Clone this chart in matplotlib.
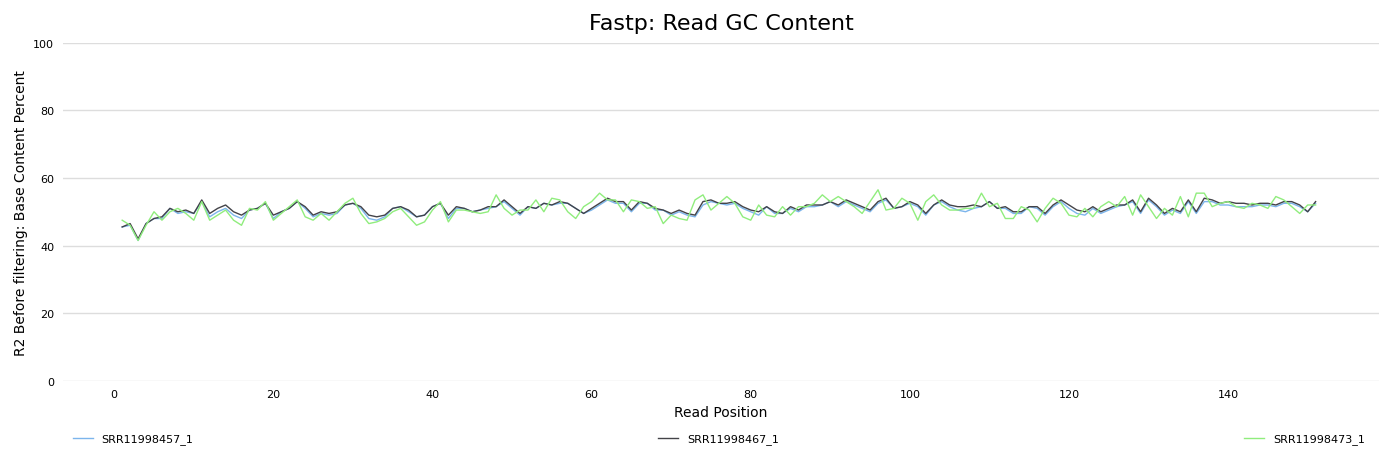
import matplotlib.pyplot as plt

positions = list(range(1, 152))

srr457 = [45.5, 46, 41.5, 46.5, 48, 48, 51, 49.5, 50, 49.5, 53, 48.5, 50, 51, 49, 48, 50.5, 51, 52.5, 48, 50, 51, 53, 51, 48.5, 49.5, 49, 49.5, 52, 52.5, 51, 48, 47.5, 48.5, 51, 51.5, 50, 48.5, 49, 51.5, 52.5, 48, 51, 51, 50, 50.5, 51, 51.5, 53, 51, 49, 51.5, 51, 52.5, 52, 52.5, 52.5, 51, 49.5, 50.5, 52, 53.5, 52.5, 52.5, 50, 52.5, 52.5, 50.5, 50.5, 49, 50, 49, 48.5, 52, 53, 52.5, 52, 52.5, 51, 50, 49, 51.5, 49.5, 49.5, 51, 50, 51.5, 51.5, 52, 53, 51.5, 53, 52, 51, 50, 52.5, 53.5, 51, 51.5, 52.5, 51.5, 49, 52, 53, 51.5, 50.5, 50, 51, 51.5, 53, 51, 51, 49.5, 49.5, 51.5, 51, 49, 51.5, 53, 51, 49.5, 49, 51, 49.5, 50.5, 51.5, 52, 53, 49.5, 53.5, 51.5, 49, 50.5, 49.5, 53, 49.5, 53, 53, 52, 52, 51.5, 51.5, 51.5, 52, 52, 51.5, 52.5, 52.5, 51.5, 50, 52.5]
srr467 = [45.5, 46.5, 42, 46.5, 48, 48.5, 51, 50, 50.5, 49.5, 53.5, 49.5, 51, 52, 50, 49, 50.5, 51, 52.5, 49, 50, 51, 53, 51.5, 49, 50, 49.5, 50, 52, 52.5, 51.5, 49, 48.5, 49, 51, 51.5, 50.5, 48.5, 49, 51.5, 52.5, 49, 51.5, 51, 50, 50.5, 51.5, 51.5, 53.5, 51.5, 49.5, 51.5, 51, 52.5, 52, 53, 52.5, 51, 49.5, 51, 52.5, 54, 53, 53, 50.5, 53, 52.5, 51, 50.5, 49.5, 50.5, 49.5, 49, 53, 53.5, 52.5, 52.5, 53, 51.5, 50.5, 50, 51.5, 50, 49.5, 51.5, 50.5, 52, 52, 52, 53, 52, 53.5, 52.5, 51.5, 50.5, 53, 54, 51, 51.5, 53, 52, 49.5, 52, 53.5, 52, 51.5, 51.5, 52, 51.5, 53, 51, 51.5, 50, 50, 51.5, 51.5, 49.5, 52, 53.5, 52, 50.5, 50, 51.5, 50, 51, 52, 52, 53.5, 50, 54, 52, 49.5, 51, 50, 53.5, 50, 54, 53.5, 52.5, 53, 52.5, 52.5, 52, 52.5, 52.5, 52, 53, 53, 52, 50, 53]
srr473 = [47.5, 46, 41.5, 46, 50, 47.5, 50, 51, 49.5, 47.5, 53, 47.5, 49, 50.5, 47.5, 46, 51, 50.5, 53, 47.5, 49.5, 51.5, 53.5, 48.5, 47.5, 49.5, 47.5, 50, 52.5, 54, 49.5, 46.5, 47, 48, 50, 51, 48.5, 46, 47, 50.5, 53, 47, 50.5, 50.5, 50, 49.5, 50, 55, 51, 49, 50.5, 50.5, 53.5, 50, 54, 53.5, 50, 48, 51.5, 53, 55.5, 53.5, 53.5, 50, 53.5, 53, 51, 51.5, 46.5, 49, 48, 47.5, 53.5, 55, 50.5, 52.5, 54.5, 52.5, 48.5, 47.5, 52, 49, 48.5, 51.5, 49, 51.5, 51.5, 52.5, 55, 53, 54.5, 53, 51.5, 49.5, 53, 56.5, 50.5, 51, 54, 52.5, 47.5, 53, 55, 52, 50.5, 50.5, 51, 51, 55.5, 51.5, 52.5, 48, 48, 51.5, 50.5, 47, 51, 54, 52.5, 49, 48.5, 51, 48.5, 51.5, 53, 51.5, 54.5, 49, 55, 51.5, 48, 51, 49, 54.5, 48.5, 55.5, 55.5, 51.5, 52.5, 53, 51.5, 51, 52.5, 52, 51, 54.5, 53.5, 51.5, 49.5, 52, 52]

fig = plt.figure(figsize=(13.89, 4.6), dpi=100)
ax = fig.add_axes([0.045, 0.17, 0.948, 0.735])
ax.plot(positions, srr457, color='#7cb5ec', lw=1, label='SRR11998457_1')
ax.plot(positions, srr467, color='#434348', lw=1, label='SRR11998467_1')
ax.plot(positions, srr473, color='#90ed7d', lw=1, label='SRR11998473_1')

ax.set_ylim(0, 100)
ax.set_xlim(-6.5, 159)
ax.set_yticks(range(0, 101, 20))
ax.set_xticks(range(0, 141, 20))
ax.grid(axis='y', color='#dddddd', lw=1)
ax.set_axisbelow(True)
for s in ax.spines.values():
    s.set_visible(False)
ax.tick_params(length=0, labelsize=8, pad=6)
ax.set_xlabel('Read Position', fontsize=10)
ax.set_ylabel('R2 Before filtering: Base Content Percent', fontsize=10)
ax.set_title('Fastp: Read GC Content', fontsize=16, pad=10)

fig.legend(loc='lower left', bbox_to_anchor=(0.045, 0.01, 0.945, 0.05), ncol=3,
           mode='expand', frameon=False, fontsize=8, handlelength=1.8)
fig.savefig('out.png')
